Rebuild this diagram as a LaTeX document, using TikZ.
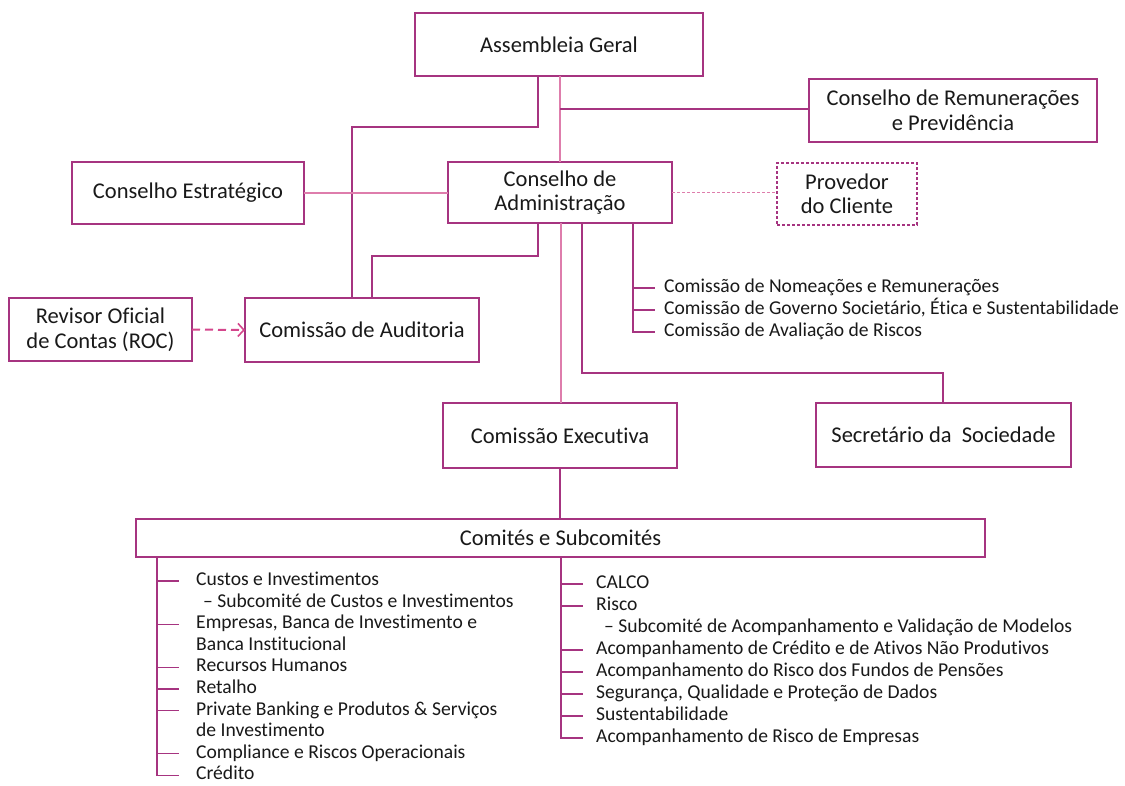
\documentclass[tikz,border=0pt]{standalone}
\usepackage{fontspec}
\setmainfont{Carlito}[Ligatures={NoCommon}]
\usetikzlibrary{arrows.meta}
\definecolor{boxc}{RGB}{166,52,128}
\definecolor{lightc}{RGB}{222,125,172}
\definecolor{arrc}{RGB}{212,70,140}
\definecolor{txt}{RGB}{25,25,25}
\begin{document}
\begin{tikzpicture}[x=1pt,y=-1pt,
  box/.style={draw=boxc, line width=1.1pt, fill=white, inner sep=0pt, outer sep=0pt, align=center, text=txt, font=\fontsize{22.5pt}{24.5pt}\selectfont},
  dbox/.style={box, dash pattern=on 3pt off 2pt},
  conn/.style={draw=boxc, line width=1.1pt},
  lconn/.style={draw=lightc, line width=1.1pt},
  item/.style={anchor=west, inner sep=0pt, text=txt, text height=13.5pt, text depth=4.5pt, font=\fontsize{19.6pt}{21pt}\selectfont}]
\fill[white] (0,0) rectangle (1125,785);
\useasboundingbox (0,0) rectangle (1125,785);

% boxes
\node[box, minimum width=288pt, minimum height=63pt] (ag) at (559,44.5) {Assembleia Geral};
\node[box, minimum width=288pt, minimum height=63pt] (crp) at (953,110.5) {Conselho de Remunerações\\e Previdência};
\node[box, minimum width=232pt, minimum height=62pt] (ce) at (188,193) {Conselho Estratégico};
\node[box, minimum width=224pt, minimum height=61pt] (ca) at (560,192.5) {Conselho de\\Administração};
\node[dbox, minimum width=140pt, minimum height=62pt] (pc) at (847,194) {Provedor\\do Cliente};
\node[box, minimum width=183pt, minimum height=63pt] (roc) at (100.5,329.5) {Revisor Oficial\\de Contas (ROC)};
\node[box, minimum width=234pt, minimum height=64pt] (aud) at (362,330) {Comissão de Auditoria};
\node[box, minimum width=234pt, minimum height=65pt] (cex) at (560,435.5) {Comissão Executiva};
\node[box, minimum width=255pt, minimum height=64pt] (sec) at (943.5,435) {Secretário da\ \ Sociedade};
\node[box, minimum width=849pt, minimum height=38pt] (com) at (560.5,538) {Comités e Subcomités};

% x positions
\coordinate (x352) at (352,0);
\coordinate (x372) at (372,0);
\coordinate (x538) at (538,0);
\coordinate (x560) at (560,0);
\coordinate (x561) at (561,0);
\coordinate (x582) at (582,0);
\coordinate (x633) at (633,0);
\coordinate (x655) at (655,0);
\coordinate (x943) at (943,0);
\coordinate (x157) at (157,0);
\coordinate (x179) at (179,0);
\coordinate (x583) at (583,0);

% connectors
\draw[conn] (ag.south -| x538) -- ++(0,51) -| (aud.north -| x352);
\draw[lconn] (ag.south -| x560) -- (ca.north -| x560);
\draw[conn] (ag.south -| x560) ++(0,33) -- (crp.west |- 0,109);
\draw[lconn] (ce.east) -- (ce.east -| ca.west);
\draw[lconn, dash pattern=on 3pt off 2pt] (ca.east) -- (ca.east -| pc.west);
\draw[conn] (ca.south -| x538) -- ++(0,33) -| (aud.north -| x372);
\draw[lconn] (ca.south -| x561) -- (cex.north -| x561);
\draw[conn] (ca.south -| x582) -- ++(0,150) -| (sec.north -| x943);
\draw[conn] (cex.south -| x560) -- (com.north -| x560);
\draw[arrc, line width=2pt, dash pattern=on 8pt off 5pt, -{Straight Barb[length=6pt, width=13pt, line width=1.6pt]}] (roc.east) -- (aud.west);

% admin commissions
\node[item] (A0) at (664,288) {Comissão de Nomeações e Remunerações};
\node[item] (A1) at (664,310) {Comissão de Governo Societário, Ética e Sustentabilidade};
\node[item] (A2) at (664,332) {Comissão de Avaliação de Riscos};
\draw[conn] (ca.south -| x633) -- (A2.west -| x633) -- (A2.west -| x655);
\draw[conn] (A0.west -| x633) -- (A0.west -| x655);
\draw[conn] (A1.west -| x633) -- (A1.west -| x655);

% left list
\node[item] (L0) at (196,581) {Custos e Investimentos};
\node[item] (L1) at (203,602.6) {– Subcomité de Custos e Investimentos};
\node[item] (L2) at (196,624.2) {Empresas, Banca de Investimento e};
\node[item] (L3) at (196,645.8) {Banca Institucional};
\node[item] (L4) at (196,667.4) {Recursos Humanos};
\node[item] (L5) at (196,689) {Retalho};
\node[item] (L6) at (196,710.6) {Private Banking e Produtos \& Serviços};
\node[item] (L7) at (196,732.2) {de Investimento};
\node[item] (L8) at (196,753.8) {Compliance e Riscos Operacionais};
\node[item] (L9) at (196,775.4) {Crédito};
\draw[conn] (com.south -| x157) -- (L9.west -| x157) -- (L9.west -| x179);
\foreach \n in {L0,L2,L4,L5,L6,L8}
  \draw[conn] (\n.west -| x157) -- (\n.west -| x179);

% right list
\node[item] (R0) at (596,584) {CALCO};
\node[item] (R1) at (596,606) {Risco};
\node[item] (R2) at (604,628) {– Subcomité de Acompanhamento e Validação de Modelos};
\node[item] (R3) at (596,650) {Acompanhamento de Crédito e de Ativos Não Produtivos};
\node[item] (R4) at (596,672) {Acompanhamento do Risco dos Fundos de Pensões};
\node[item] (R5) at (596,694) {Segurança, Qualidade e Proteção de Dados};
\node[item] (R6) at (596,716) {Sustentabilidade};
\node[item] (R7) at (596,738) {Acompanhamento de Risco de Empresas};
\draw[conn] (com.south -| x561) -- (R7.west -| x561) -- (R7.west -| x583);
\foreach \n in {R0,R1,R3,R4,R5,R6}
  \draw[conn] (\n.west -| x561) -- (\n.west -| x583);
\end{tikzpicture}
\end{document}
